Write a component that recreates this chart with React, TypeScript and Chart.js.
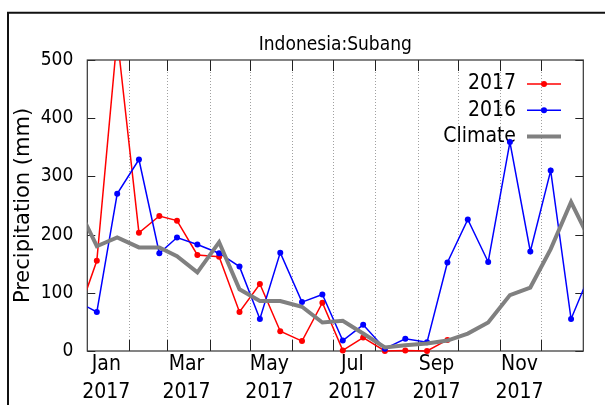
import { useEffect, useRef } from 'react';
import { Chart, registerables } from 'chart.js';

Chart.register(...registerables);

const chartTitle = 'Indonesia:Subang';
const yAxisTitle = 'Precipitation (mm)';

// day-of-year (0 = 1 Jan 2017) of each half-month value; first/last belong to the neighbouring years
const pointDays = [-9, 7, 22, 38, 53, 66, 81, 97, 112, 127, 142, 158, 173, 188, 203, 219, 234, 250, 265, 280, 295, 311, 326, 341, 356, 372];
const rain2017 = [48, 155, 540, 203, 232, 224, 165, 162, 67, 115, 34, 17, 83, 1, 23, 0, 1, 0, 19, null, null, null, null, null, null, null];
const rain2016 = [87, 67, 270, 329, 168, 195, 183, 168, 145, 55, 169, 84, 97, 18, 45, 4, 21, 15, 152, 226, 153, 359, 171, 310, 55, 145];
const climate = [257, 180, 195, 178, 178, 163, 135, 187, 106, 86, 86, 76, 49, 52, 30, 6, 10, 13, 18, 30, 49, 96, 109, 175, 256, 180];

const monthStarts = [0, 31, 59, 90, 120, 151, 181, 212, 243, 273, 304, 334, 365];
const labelDays = [14, 73, 134, 195, 257, 318];
const labelMonths = ['Jan', 'Mar', 'May', 'Jul', 'Sep', 'Nov'];
const labelYear = '2017';
const yTickValues = [0, 100, 200, 300, 400, 500];

const seriesNames = ['2017', '2016', 'Climate'];

const COND = "'DejaVu Sans Condensed', 'DejaVu Sans', sans-serif";

function toPoints(vals: (number | null)[]) {
  return pointDays.map((d, i) => ({ x: d, y: vals[i] }));
}

const framePlugin = {
  id: 'gnuframe',
  beforeDraw(chart: any) {
    const ctx = chart.ctx;
    ctx.save();
    ctx.strokeStyle = '#111';
    ctx.lineWidth = 2;
    ctx.beginPath();
    ctx.moveTo(8, chart.height + 2);
    ctx.lineTo(8, 12.7);
    ctx.lineTo(chart.width + 2, 12.7);
    ctx.stroke();
    ctx.restore();
  },
  beforeDatasetsDraw(chart: any) {
    const ctx = chart.ctx;
    const ca = chart.chartArea;
    const xs = chart.scales.x;
    const ys = chart.scales.y;
    ctx.save();
    // dotted month grid
    ctx.strokeStyle = '#a0a0a0';
    ctx.lineWidth = 1;
    ctx.setLineDash([1, 2]);
    monthStarts.forEach((d) => {
      if (d <= 0 || d >= 365) return;
      const px = Math.round(xs.getPixelForValue(d)) + 0.5;
      ctx.beginPath();
      ctx.moveTo(px, ca.top);
      ctx.lineTo(px, ca.bottom);
      ctx.stroke();
    });
    ctx.setLineDash([]);
    // inward ticks
    ctx.strokeStyle = '#222';
    ctx.lineWidth = 1;
    monthStarts.forEach((d) => {
      if (d <= 0 || d >= 365) return;
      const px = Math.round(xs.getPixelForValue(d)) + 0.5;
      ctx.beginPath();
      ctx.moveTo(px, ca.top);
      ctx.lineTo(px, ca.top + 11);
      ctx.moveTo(px, ca.bottom);
      ctx.lineTo(px, ca.bottom - 11);
      ctx.stroke();
    });
    yTickValues.forEach((v) => {
      const py = Math.round(ys.getPixelForValue(v)) + 0.5;
      ctx.beginPath();
      ctx.moveTo(ca.left, py);
      ctx.lineTo(ca.left + 8, py);
      ctx.moveTo(ca.right, py);
      ctx.lineTo(ca.right - 8, py);
      ctx.stroke();
    });
    // frame
    ctx.strokeStyle = '#333';
    ctx.lineWidth = 1.2;
    ctx.strokeRect(ca.left, ca.top, ca.right - ca.left, ca.bottom - ca.top);

    // key
    const colors = ['#ff0000', '#0000ff', '#808080'];
    const widths = [1.5, 1.5, 4];
    const dots = [true, true, false];
    const textRight = ca.right - 67.3;
    const lineStart = ca.right - 56.3;
    const lineEnd = ca.right - 22.3;
    const rows = [ca.top + 24, ca.top + 50.3, ca.top + 76.6];
    ctx.font = `21px ${COND}`;
    ctx.fillStyle = '#000';
    ctx.textAlign = 'right';
    ctx.textBaseline = 'middle';
    seriesNames.forEach((name, i) => {
      ctx.fillText(name, textRight, rows[i]);
      ctx.strokeStyle = colors[i];
      ctx.lineWidth = widths[i];
      ctx.beginPath();
      ctx.moveTo(lineStart, rows[i]);
      ctx.lineTo(lineEnd, rows[i]);
      ctx.stroke();
      if (dots[i]) {
        ctx.fillStyle = colors[i];
        ctx.beginPath();
        ctx.arc((lineStart + lineEnd) / 2, rows[i], 3, 0, Math.PI * 2);
        ctx.fill();
        ctx.fillStyle = '#000';
      }
    });
    ctx.restore();
  },
};

export default function App() {
  const ref = useRef<HTMLCanvasElement | null>(null);
  useEffect(() => {
    if (!ref.current) return;
    const clip = { left: 0, top: 0, right: 0, bottom: 5 } as any;
    const chart = new Chart(ref.current, {
      type: 'line',
      data: {
        datasets: [
          {
            label: seriesNames[0],
            data: toPoints(rain2017) as any,
            borderColor: '#ff0000',
            backgroundColor: '#ff0000',
            borderWidth: 1.5,
            pointRadius: 3,
            pointBorderWidth: 0,
            pointHoverRadius: 3,
            tension: 0,
            clip,
            order: 2,
          },
          {
            label: seriesNames[1],
            data: toPoints(rain2016) as any,
            borderColor: '#0000ff',
            backgroundColor: '#0000ff',
            borderWidth: 1.5,
            pointRadius: 3,
            pointBorderWidth: 0,
            pointHoverRadius: 3,
            tension: 0,
            clip,
            order: 1,
          },
          {
            label: seriesNames[2],
            data: toPoints(climate) as any,
            borderColor: '#808080',
            backgroundColor: '#808080',
            borderWidth: 4,
            pointRadius: 0,
            tension: 0,
            clip,
            order: 0,
          },
        ],
      },
      options: {
        responsive: false,
        animation: false,
        events: [],
        layout: { padding: { left: 0, right: 21.7, top: 0, bottom: 0 }, autoPadding: false },
        plugins: {
          legend: { display: false },
          tooltip: { enabled: false },
          title: {
            display: true,
            text: chartTitle,
            fullSize: false,
            color: '#000',
            font: { family: COND, size: 19, weight: 'normal' },
            padding: { top: 33.7, bottom: 3.5 },
          },
        },
        scales: {
          x: {
            type: 'linear',
            min: 0,
            max: 365,
            grid: { display: false, drawTicks: false },
            border: { display: false },
            afterBuildTicks: (axis: any) => {
              axis.ticks = labelDays.map((v) => ({ value: v }));
            },
            afterFit: (axis: any) => {
              axis.height = 54;
            },
            ticks: {
              autoSkip: false,
              maxRotation: 0,
              minRotation: 0,
              padding: 0,
              color: '#000',
              font: { family: COND, size: 21, lineHeight: 1.333 },
              callback: (value: any) => {
                const i = labelDays.indexOf(Number(value));
                return i >= 0 ? [labelMonths[i], labelYear] : '';
              },
            },
          },
          y: {
            type: 'linear',
            min: 0,
            max: 500,
            grid: { display: false, drawTicks: false },
            border: { display: false },
            afterBuildTicks: (axis: any) => {
              axis.ticks = yTickValues.map((v) => ({ value: v }));
            },
            afterFit: (axis: any) => {
              axis.width = 87.3;
            },
            ticks: {
              padding: 14,
              color: '#000',
              font: { family: COND, size: 19 },
            },
            title: {
              display: true,
              text: yAxisTitle,
              color: '#000',
              font: { family: "'DejaVu Sans', sans-serif", size: 21 },
              padding: { top: 11.4, bottom: 0 },
            },
          },
        },
      },
      plugins: [framePlugin],
    });
    return () => chart.destroy();
  }, []);
  return (
    <div style={{ position: 'fixed', left: 0, top: 0, width: 605, height: 405 }}>
      <canvas ref={ref} width={605} height={405} style={{ display: 'block' }} />
    </div>
  );
}
